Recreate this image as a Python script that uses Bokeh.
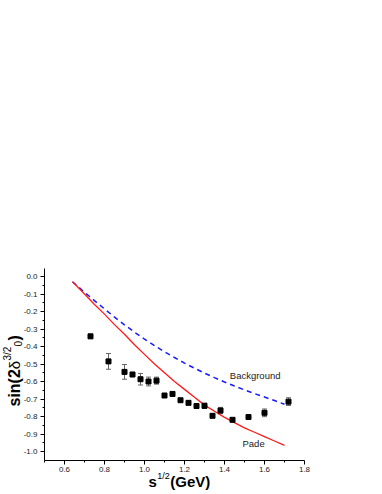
import math
from bokeh.plotting import figure
from bokeh.models import (ColumnDataSource, Whisker, TeeHead, Label, FixedTicker,
                          Range1d)
from bokeh.embed import file_html
from bokeh.resources import INLINE

# ---- data ----
exp_x = [0.73, 0.82, 0.90, 0.94, 0.98, 1.02, 1.06, 1.10, 1.14, 1.18,
         1.22, 1.26, 1.30, 1.34, 1.38, 1.44, 1.52, 1.60, 1.72]
exp_y = [-0.342, -0.485, -0.545, -0.560, -0.587, -0.600, -0.595, -0.680, -0.671, -0.707,
         -0.722, -0.740, -0.739, -0.796, -0.766, -0.819, -0.803, -0.779, -0.715]
exp_err = [0.012, 0.045, 0.042, 0.012, 0.033, 0.025, 0.020, 0.008, 0.010, 0.008,
           0.008, 0.010, 0.015, 0.010, 0.018, 0.008, 0.010, 0.022, 0.022]

curve_x = [0.64, 0.70, 0.75, 0.80, 0.85, 0.90, 0.95, 1.00, 1.05, 1.10, 1.15,
           1.20, 1.25, 1.30, 1.35, 1.40, 1.45, 1.50, 1.55, 1.60, 1.65, 1.70]
pade_y = [-0.030, -0.100, -0.160, -0.215, -0.275, -0.330, -0.390, -0.445, -0.500, -0.550, -0.600,
          -0.645, -0.690, -0.735, -0.770, -0.805, -0.835, -0.865, -0.890, -0.915, -0.940, -0.965]
background_y = [-0.030, -0.090, -0.138, -0.185, -0.232, -0.276, -0.318, -0.358, -0.395, -0.430, -0.463,
                -0.495, -0.524, -0.552, -0.578, -0.603, -0.626, -0.648, -0.669, -0.689, -0.709, -0.730]

x_major = [0.6, 0.8, 1.0, 1.2, 1.4, 1.6, 1.8]
x_minor = [0.5, 0.7, 0.9, 1.1, 1.3, 1.5, 1.7]
y_major = [0.0, -0.1, -0.2, -0.3, -0.4, -0.5, -0.6, -0.7, -0.8, -0.9, -1.0]
y_minor = [-0.05, -0.15, -0.25, -0.35, -0.45, -0.55, -0.65, -0.75, -0.85, -0.95]
x_axis_span = (0.5, 1.8)
y_axis_span = (-1.0514, 0.0457)

FONT = "Liberation Sans"
W, H = 380, 492
# the plot frame fills the whole canvas; axes are pinned inside it
XPX, YPX = 200.0, 175.0          # pixels per data unit
x0 = x_axis_span[0] - 44 / XPX
y1 = 0.0 + 276 / YPX

p = figure(width=W, height=H, output_backend="svg", toolbar_location=None,
           x_range=Range1d(x0, x0 + W / XPX), y_range=Range1d(y1 - H / YPX, y1),
           min_border=0)
p.outline_line_color = None
p.grid.visible = False
p.background_fill_color = "white"
p.border_fill_color = "white"

for ax in (p.xaxis[0], p.yaxis[0]):
    ax.axis_line_color = "black"
    ax.axis_line_width = 1
    ax.major_tick_in = 0
    ax.major_tick_out = 4
    ax.minor_tick_in = 0
    ax.minor_tick_out = 2
    ax.major_tick_line_color = "black"
    ax.minor_tick_line_color = "black"
    ax.major_label_text_font = FONT
    ax.major_label_text_font_size = "8px"
    ax.major_label_text_color = "#222222"
    ax.major_label_standoff = 3

p.xaxis[0].ticker = FixedTicker(ticks=x_major, minor_ticks=x_minor)
p.yaxis[0].ticker = FixedTicker(ticks=y_major, minor_ticks=y_minor)
p.xaxis[0].major_label_overrides = {v: f"{v:.1f}" for v in x_major}
p.yaxis[0].major_label_overrides = {v: f"{v:.1f}" for v in y_major}
p.xaxis[0].fixed_location = y_axis_span[0]
p.xaxis[0].bounds = x_axis_span
p.yaxis[0].fixed_location = x_axis_span[0]
p.yaxis[0].bounds = y_axis_span

# curves
p.line(curve_x, background_y, line_color="#1a1aff", line_width=1.5, line_dash="5 4")
p.line(curve_x, pade_y, line_color="#ff1a1a", line_width=1.3)

# experimental points with error bars
src = ColumnDataSource(dict(
    x=exp_x, y=exp_y,
    upper=[y + e for y, e in zip(exp_y, exp_err)],
    lower=[y - e for y, e in zip(exp_y, exp_err)],
))
w = Whisker(base="x", upper="upper", lower="lower", source=src,
            line_color="#666666", line_width=1,
            upper_head=TeeHead(size=5, line_color="#666666", line_width=1),
            lower_head=TeeHead(size=5, line_color="#666666", line_width=1))
p.add_layout(w)
p.scatter("x", "y", source=src, marker="square", size=5, color="black")

# curve labels
p.add_layout(Label(x=1.4265, y=-0.598, text="Background", text_font=FONT,
                   text_font_size="9.5px", text_color="#222222"))
p.add_layout(Label(x=1.49, y=-0.983, text="Pade", text_font=FONT,
                   text_font_size="9.5px", text_color="#222222"))

# axis-title pieces, in screen px (origin bottom-left of the canvas)
def slabel(x, y, text, size, bold=True, angle=0.0):
    p.add_layout(Label(x=x, y=y, x_units="screen", y_units="screen", text=text,
                       text_font=FONT, text_font_size=size,
                       text_font_style="bold" if bold else "normal",
                       text_color="black", angle=angle,
                       text_align="left", text_baseline="alphabetic"))

# x axis label: s^{1/2}(GeV)
slabel(148, 11, "s", "15px")
slabel(156.8, 17, "1/2", "9px", bold=False)
slabel(169.8, 11, "(GeV)", "15px")

# y axis label: sin(2δ^{3/2}_0)
A = math.pi / 2
slabel(14, 86, "sin(2", "16px", angle=A)
slabel(14, 123.3, "δ", "15px", bold=False, angle=A)
slabel(7, 132, "3/2", "10px", bold=False, angle=A)
slabel(17, 146, "0", "10px", bold=False, angle=A)
slabel(14, 152, ")", "16px", angle=A)

open("out.html", "w").write(file_html(p, INLINE))
